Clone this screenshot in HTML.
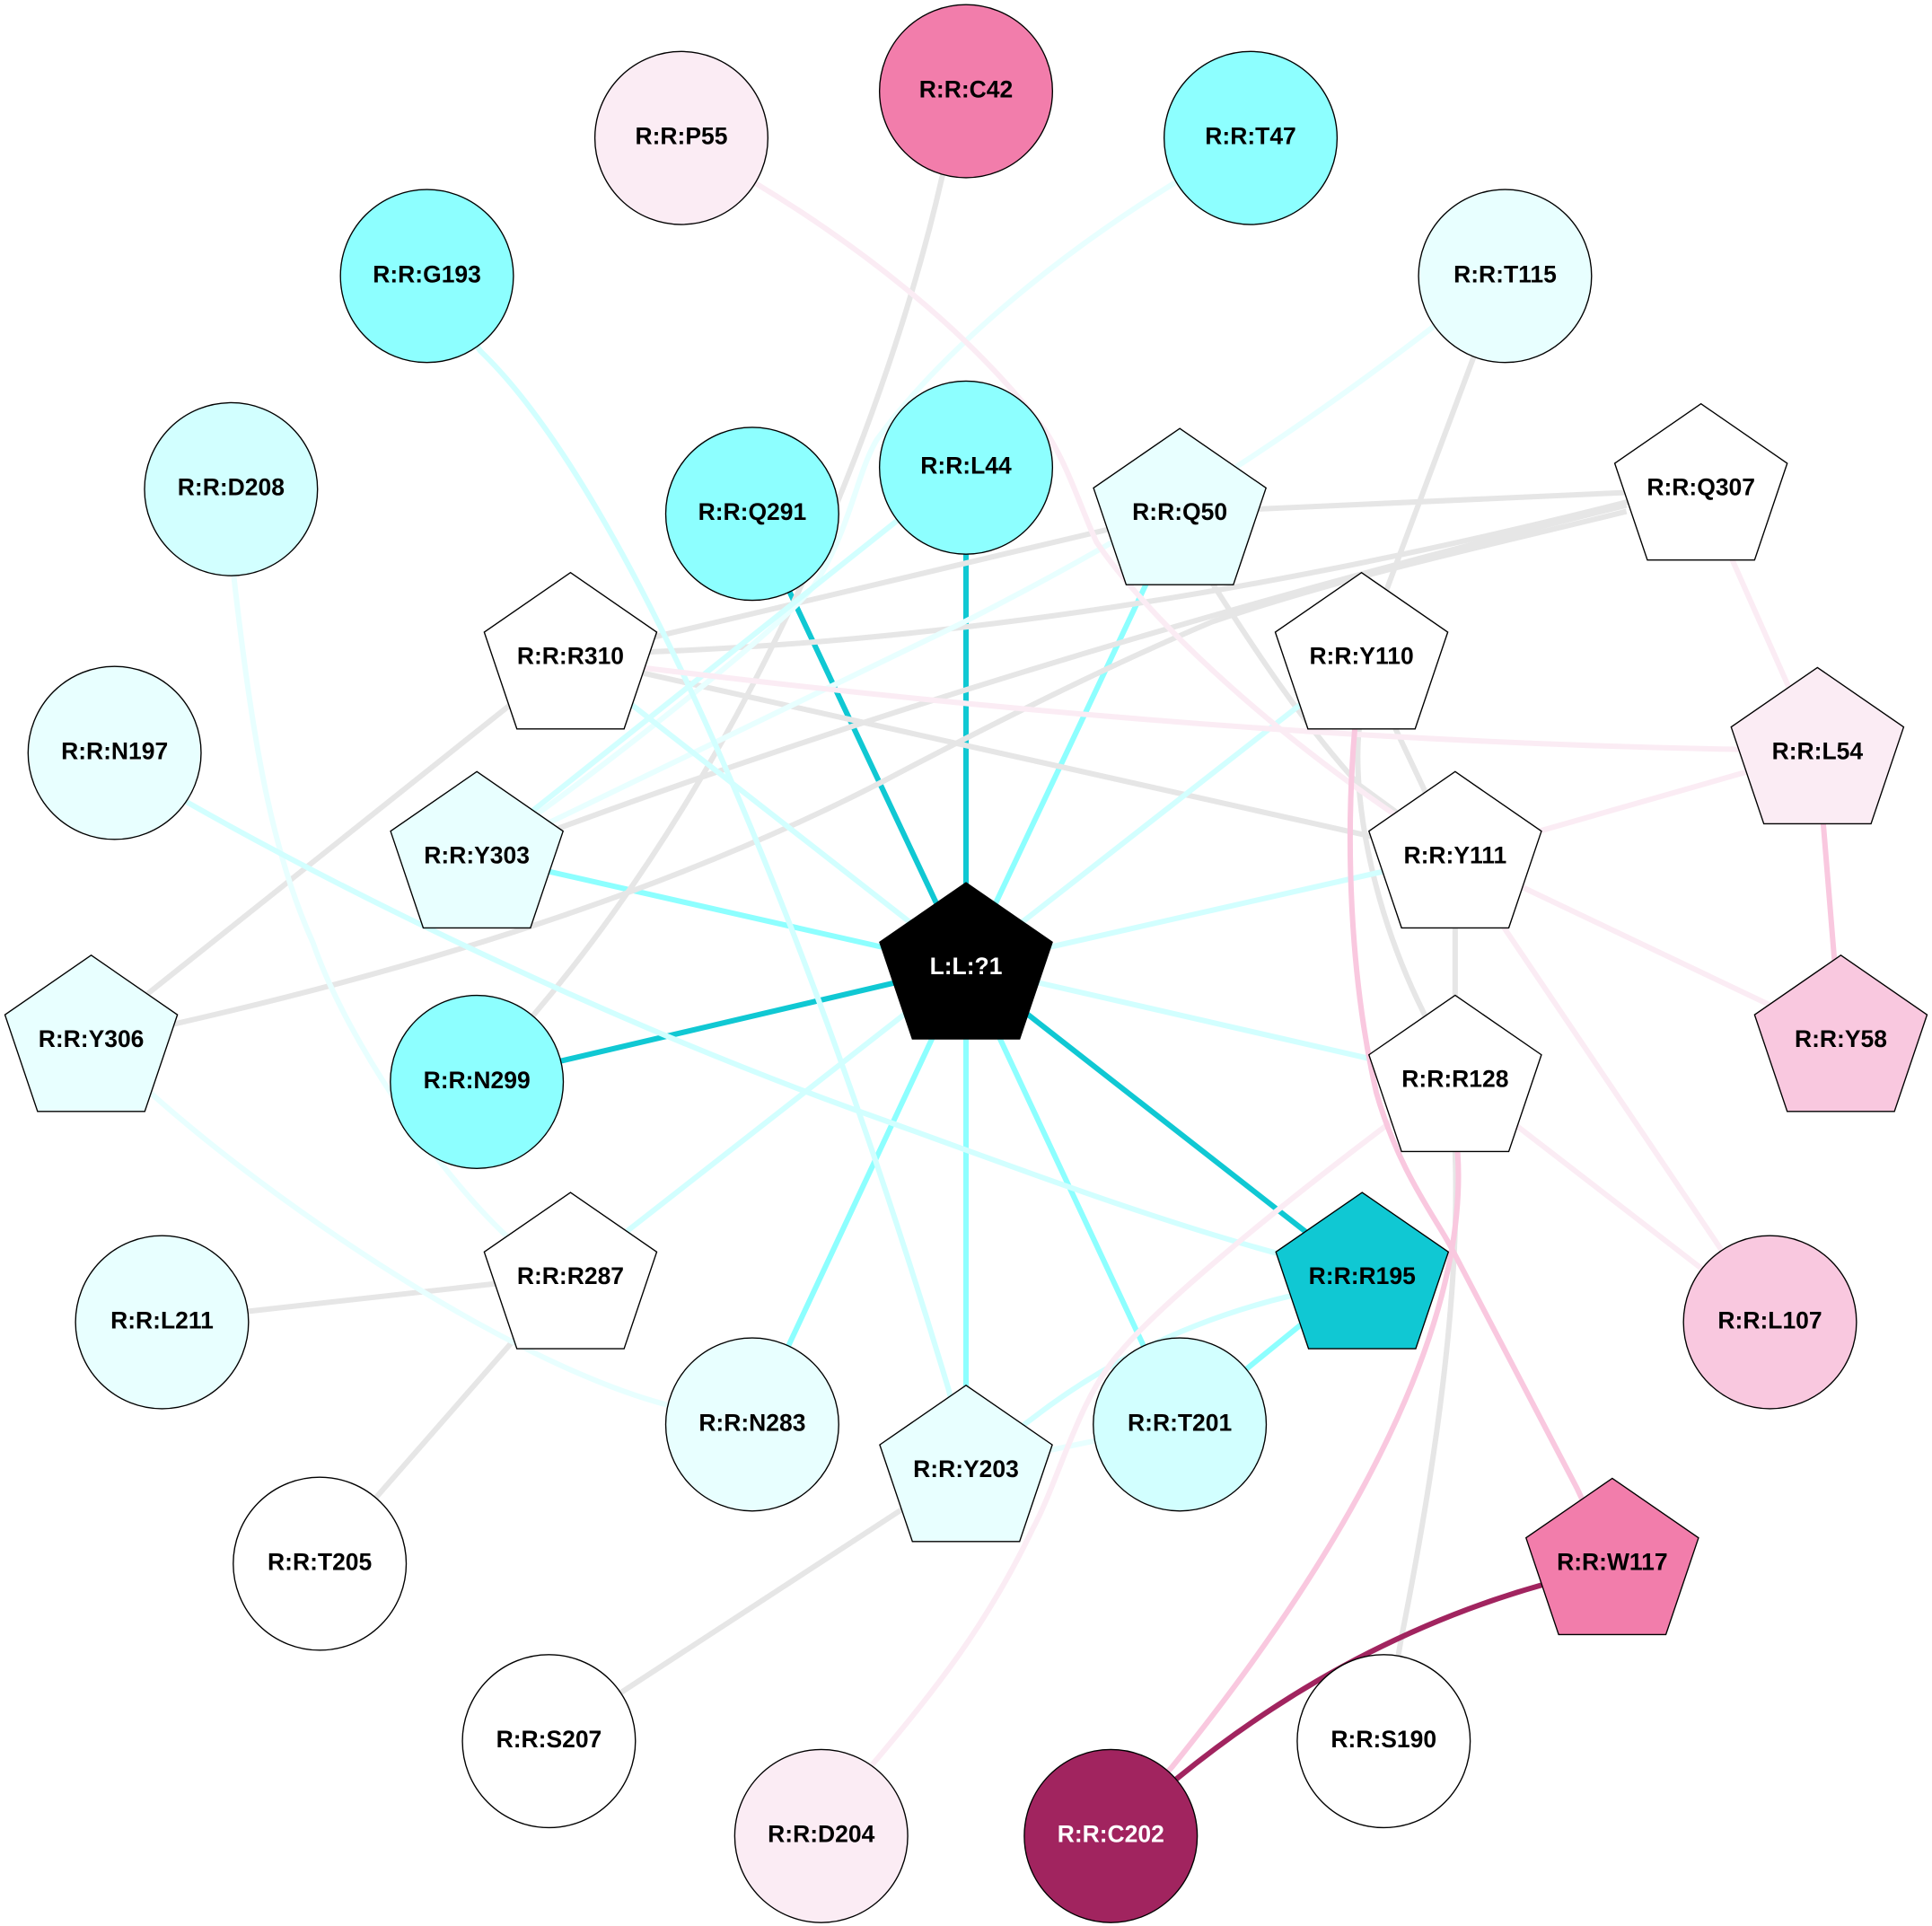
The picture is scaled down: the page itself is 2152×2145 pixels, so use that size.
<!DOCTYPE html>
<html><head><meta charset="utf-8"><style>
html,body{margin:0;padding:0;background:#fff}
svg{display:block}
text{font-family:"Liberation Sans",sans-serif;font-weight:bold;font-size:19.3px;text-anchor:middle;fill:#000}
.e path,.e line{fill:none;stroke-width:4.4}
.n circle,.n polygon{stroke:#000;stroke-width:1}
</style></head><body>
<svg width="2152" height="2145" viewBox="0 0 1568 1563" preserveAspectRatio="none" xmlns="http://www.w3.org/2000/svg">
<rect width="1568" height="1563" fill="#fff"/>
<g class="e">
<!-- dark cyan -->
<g stroke="#10C8D3">
<line x1="784" y1="784" x2="784" y2="378"/>
<line x1="784" y1="784" x2="610.5" y2="416"/>
<line x1="784" y1="784" x2="387" y2="877"/>
<line x1="784" y1="784" x2="1105" y2="1035"/>
</g>
<!-- mid cyan -->
<g stroke="#8DFFFF">
<line x1="784" y1="784" x2="957.5" y2="416"/>
<line x1="784" y1="784" x2="387" y2="694"/>
<line x1="784" y1="784" x2="610.5" y2="1155"/>
<line x1="784" y1="784" x2="784" y2="1191"/>
<line x1="784" y1="784" x2="957.5" y2="1155"/>
<line x1="1105" y1="1035" x2="957.5" y2="1155"/>
</g>
<!-- grey -->
<g stroke="#E6E6E6">
<path d="M784,73L764.6,143.6C722,330 615,610 433,823.7L387,877"/>
<line x1="957" y1="416" x2="463" y2="533"/>
<path d="M463,533L527,529Q900,515 1330,405"/>
<path d="M387,694L456.5,671Q852,526 1320,410"/>
<path d="M74,849L143,830.6C300,795 520,735 713,636C800,590 900,540 983.7,504.6C1100,465 1220,440 1320,415"/>
<line x1="957" y1="416" x2="1380" y2="397"/>
<line x1="463" y1="533" x2="74" y2="843"/>
<line x1="463" y1="533" x2="1181" y2="694"/>
<path d="M957,440L985,475C1020,530 1060,590 1103,637L1181,694"/>
<path d="M1105,533L1103,592C1098,640 1110,730 1155,821L1181,875"/>
<line x1="1221" y1="223" x2="1105" y2="533"/>
<line x1="1105" y1="533" x2="1181" y2="694"/>
<line x1="1181" y1="694" x2="1181" y2="875"/>
<path d="M1181,875L1181,935C1185,1050 1165,1190 1137,1331L1123,1412"/>
<line x1="463" y1="1035" x2="131" y2="1072"/>
<line x1="463" y1="1035" x2="259" y2="1268"/>
<line x1="784" y1="1191" x2="445" y2="1412"/>
</g>
<!-- lightest cyan -->
<g stroke="#E8FFFF">
<path d="M1015,112L954,148C850,212 760,290 711.5,357C695,385 690,430 661,474.6C640,505 487,624 438,659L387,694"/>
<path d="M1221,223L1170,260C1060,345 950,420 780,506L449,666L387,694"/>
<path d="M187,396L190,470C205,600 220,690 254,765C280,840 350,945 410,1002L463,1035"/>
<path d="M74,843L120,885C220,975 410,1105 541,1140L610,1155"/>
<line x1="957" y1="1155" x2="784" y2="1191"/>
</g>
<!-- light cyan -->
<g stroke="#D2FFFF">
<path d="M346,223L390,285C510,400 658,755 770,1128L784,1191"/>
<path d="M93,610L150,650C300,735 500,830 692,900C810,942 920,985 1036,1017L1105,1035"/>
<line x1="784" y1="378" x2="387" y2="694"/>
<path d="M1105,1035L1046,1052Q930,1080 838,1151L784,1191"/>
<line x1="784" y1="784" x2="463" y2="533"/>
<line x1="784" y1="784" x2="1105" y2="533"/>
<line x1="784" y1="784" x2="1181" y2="694"/>
<line x1="784" y1="784" x2="1181" y2="875"/>
<line x1="784" y1="784" x2="463" y2="1035"/>
</g>
<!-- light pink -->
<g stroke="#FBECF4">
<path d="M553,112L612,148C690,195 785,265 848.7,350C868,380 878,415 890,440C920,485 1000,570 1129.6,659.5L1181,694"/>
<line x1="1380" y1="396" x2="1475" y2="610"/>
<path d="M463,533L523,542Q1002,601 1405,608L1475,610"/>
<line x1="1181" y1="694" x2="1475" y2="610"/>
<line x1="1181" y1="694" x2="1494" y2="843"/>
<line x1="1181" y1="694" x2="1436" y2="1072"/>
<line x1="1181" y1="875" x2="1436" y2="1072"/>
<path d="M1181,875L1127,912C1030,985 940,1060 909,1097.5C875,1135 860,1200 838,1241C800,1320 760,1370 708,1432L666,1489"/>
</g>
<!-- mid pink -->
<g stroke="#F9C8DF">
<line x1="1475" y1="610" x2="1494" y2="843"/>
<path d="M1105,533L1099.5,592C1092,680 1095,790 1117,886.6C1135,950 1165,988 1178,1012.8L1280,1208L1308,1268"/>
<path d="M1181,875L1183,935C1190,1040 1140,1200 951.5,1433.6L901,1489"/>
</g>
<path d="M1308,1268L1251,1286.4Q1093,1331 955,1443.5L901,1489" stroke="#A1245F"/>
</g>
<g class="n">
<g transform="translate(784,79)"><circle cy="-5" r="70.2" fill="#F27DAB"/><text>R:R:C42</text></g>
<g transform="translate(553,117)"><circle cy="-5" r="70.2" fill="#FBECF4"/><text>R:R:P55</text></g>
<g transform="translate(1015,117)"><circle cy="-5" r="70.2" fill="#8DFFFF"/><text>R:R:T47</text></g>
<g transform="translate(346.5,229)"><circle cy="-5" r="70.2" fill="#8DFFFF"/><text>R:R:G193</text></g>
<g transform="translate(1221.5,229)"><circle cy="-5" r="70.2" fill="#E8FFFF"/><text>R:R:T115</text></g>
<g transform="translate(187.5,402)"><circle cy="-5" r="70.2" fill="#D2FFFF"/><text>R:R:D208</text></g>
<g transform="translate(610.5,422)"><circle cy="-5" r="70.2" fill="#8DFFFF"/><text>R:R:Q291</text></g>
<g transform="translate(784,384.5)"><circle cy="-5" r="70.2" fill="#8DFFFF"/><text>R:R:L44</text></g>
<g transform="translate(957.5,422)"><polygon points="0,-74.3 70,-26 43.5,52.5 -43.5,52.5 -70,-26" fill="#E8FFFF"/><text>R:R:Q50</text></g>
<g transform="translate(1380.5,402)"><polygon points="0,-74.3 70,-26 43.5,52.5 -43.5,52.5 -70,-26" fill="#FFFFFF"/><text>R:R:Q307</text></g>
<g transform="translate(463,539)"><polygon points="0,-74.3 70,-26 43.5,52.5 -43.5,52.5 -70,-26" fill="#FFFFFF"/><text>R:R:R310</text></g>
<g transform="translate(1105,539)"><polygon points="0,-74.3 70,-26 43.5,52.5 -43.5,52.5 -70,-26" fill="#FFFFFF"/><text>R:R:Y110</text></g>
<g transform="translate(93,616)"><circle cy="-5" r="70.2" fill="#E8FFFF"/><text>R:R:N197</text></g>
<g transform="translate(1475,616)"><polygon points="0,-74.3 70,-26 43.5,52.5 -43.5,52.5 -70,-26" fill="#FBECF4"/><text>R:R:L54</text></g>
<g transform="translate(387,700.5)"><polygon points="0,-74.3 70,-26 43.5,52.5 -43.5,52.5 -70,-26" fill="#E8FFFF"/><text>R:R:Y303</text></g>
<g transform="translate(1181,700.5)"><polygon points="0,-74.3 70,-26 43.5,52.5 -43.5,52.5 -70,-26" fill="#FFFFFF"/><text>R:R:Y111</text></g>
<g transform="translate(74,849.5)"><polygon points="0,-74.3 70,-26 43.5,52.5 -43.5,52.5 -70,-26" fill="#E8FFFF"/><text>R:R:Y306</text></g>
<g transform="translate(1494,849.5)"><polygon points="0,-74.3 70,-26 43.5,52.5 -43.5,52.5 -70,-26" fill="#F9C8DF"/><text>R:R:Y58</text></g>
<g transform="translate(784,790.6)"><polygon points="0,-74.3 70,-26 43.5,52.5 -43.5,52.5 -70,-26" fill="#000000"/><text style="fill:#fff">L:L:?1</text></g>
<g transform="translate(387,883)"><circle cy="-5" r="70.2" fill="#8DFFFF"/><text>R:R:N299</text></g>
<g transform="translate(1181,882)"><polygon points="0,-74.3 70,-26 43.5,52.5 -43.5,52.5 -70,-26" fill="#FFFFFF"/><text>R:R:R128</text></g>
<g transform="translate(131.5,1078)"><circle cy="-5" r="70.2" fill="#E8FFFF"/><text>R:R:L211</text></g>
<g transform="translate(1436.5,1078)"><circle cy="-5" r="70.2" fill="#F9C8DF"/><text>R:R:L107</text></g>
<g transform="translate(463,1042)"><polygon points="0,-74.3 70,-26 43.5,52.5 -43.5,52.5 -70,-26" fill="#FFFFFF"/><text>R:R:R287</text></g>
<g transform="translate(1105.5,1042)"><polygon points="0,-74.3 70,-26 43.5,52.5 -43.5,52.5 -70,-26" fill="#10C8D3"/><text>R:R:R195</text></g>
<g transform="translate(610.5,1161)"><circle cy="-5" r="70.2" fill="#E8FFFF"/><text>R:R:N283</text></g>
<g transform="translate(957.5,1161)"><circle cy="-5" r="70.2" fill="#D2FFFF"/><text>R:R:T201</text></g>
<g transform="translate(784,1198.5)"><polygon points="0,-74.3 70,-26 43.5,52.5 -43.5,52.5 -70,-26" fill="#E8FFFF"/><text>R:R:Y203</text></g>
<g transform="translate(259.5,1274)"><circle cy="-5" r="70.2" fill="#FFFFFF"/><text>R:R:T205</text></g>
<g transform="translate(1308.5,1274)"><polygon points="0,-74.3 70,-26 43.5,52.5 -43.5,52.5 -70,-26" fill="#F27DAB"/><text>R:R:W117</text></g>
<g transform="translate(445.5,1418)"><circle cy="-5" r="70.2" fill="#FFFFFF"/><text>R:R:S207</text></g>
<g transform="translate(1123,1418)"><circle cy="-5" r="70.2" fill="#FFFFFF"/><text>R:R:S190</text></g>
<g transform="translate(666.5,1495)"><circle cy="-5" r="70.2" fill="#FBECF4"/><text>R:R:D204</text></g>
<g transform="translate(901.5,1495)"><circle cy="-5" r="70.2" fill="#A1245F"/><text style="fill:#fff">R:R:C202</text></g>
</g>
</svg>
</body></html>
